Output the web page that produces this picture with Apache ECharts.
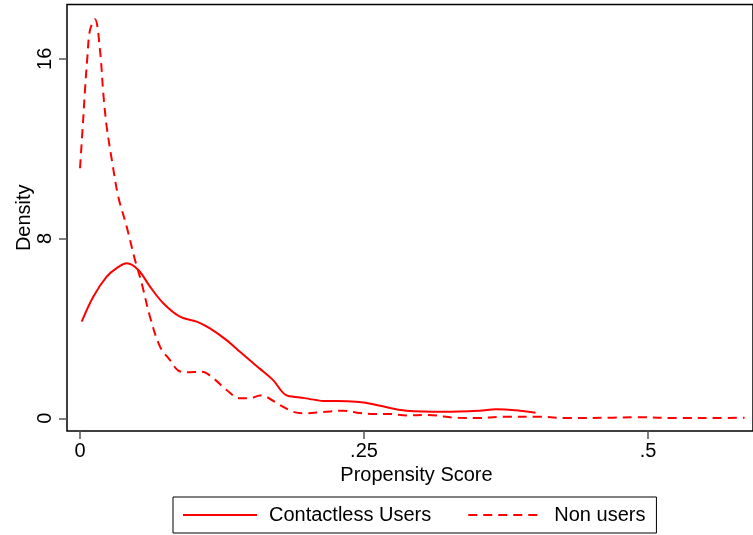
<!DOCTYPE html>
<html>
<head>
<meta charset="utf-8">
<script src="https://cdn.jsdelivr.net/npm/echarts@6/dist/echarts.min.js"></script>
<style>html,body{margin:0;padding:0;background:#fff}#c{width:753px;height:535px}</style>
</head>
<body>
<div id="c"></div>
<script>
// Contactless users (solid)
const contactlessX = [0.0015,0.0117,0.0235,0.0323,0.0411,0.0514,0.0616,0.0733,0.088,0.1027,0.1144,0.129,0.1408,0.1526,0.1585,0.170,0.181,0.1937,0.208,0.2142,0.2356,0.2500,0.263,0.2875,0.321,0.352,0.366,0.387,0.401];
const contactlessY = [4.30,5.41,6.30,6.68,6.90,6.60,5.86,5.12,4.52,4.30,4.00,3.48,2.96,2.45,2.20,1.70,1.04,0.93,0.81,0.77,0.76,0.70,0.57,0.34,0.29,0.34,0.40,0.34,0.25];
// Non users (dashed)
const nonUsersX = [0,0.0024,0.0044,0.0065,0.0088,0.0132,0.0176,0.0205,0.0235,0.0285,0.0337,0.0411,0.0484,0.0543,0.0616,0.0704,0.0792,0.0865,0.0939,0.1071,0.1174,0.129,0.1408,0.1496,0.1585,0.164,0.176,0.1878,0.1966,0.2142,0.2318,0.2436,0.258,0.273,0.2875,0.305,0.333,0.349,0.372,0.403,0.430,0.469,0.489,0.528,0.560,0.585];
const nonUsersY = [11.13,12.98,14.61,16.09,17.28,17.76,16.39,14.46,12.98,11.35,9.86,8.53,7.05,6.01,4.52,3.19,2.59,2.12,2.05,2.07,1.78,1.26,0.89,0.89,1.02,0.96,0.59,0.29,0.22,0.28,0.34,0.25,0.19,0.19,0.13,0.15,0.02,0.01,0.07,0.07,0.01,0.03,0.05,0.01,0.01,0.03];
const xTicks = [0, 0.25, 0.5];
const xTickLabels = ['0', '.25', '.5'];
const yTicks = [0, 8, 16];
const yTickLabels = ['0', '8', '16'];
const seriesNames = ['Contactless Users', 'Non users'];

const pairs = (xs, ys) => xs.map((x, i) => [x, ys[i]]);
const font = 'Liberation Sans, Arial, Helvetica, sans-serif';

const chart = echarts.init(document.getElementById('c'), null, {renderer: 'canvas'});
chart.setOption({
  animation: false,
  backgroundColor: '#fff',
  grid: {left: 67, right: 0, top: 4.5, bottom: 104, show: true, borderColor: '#000', borderWidth: 1.5, backgroundColor: 'transparent', outerBoundsMode: 'none', containLabel: false},
  xAxis: {
    type: 'value', min: -13/1136, max: (753-80)/1136,
    name: 'Propensity Score', nameLocation: 'middle', nameGap: 30,
    nameTextStyle: {fontFamily: font, fontSize: 20, color: '#000', padding: [0, 0, 0, 13]},
    splitLine: {show: false},
    axisLine: {show: false, onZero: false},
    axisTick: {show: true, length: 8, customValues: xTicks, lineStyle: {color: '#555', width: 1.5}},
    axisLabel: {margin: 10, fontFamily: font, fontSize: 20, color: '#000', customValues: xTicks,
      formatter: v => { const i = xTicks.findIndex(t => Math.abs(t - v) < 1e-9); return i >= 0 ? xTickLabels[i] : ''; }}
  },
  yAxis: {
    type: 'value', min: (418.3-431)/22.47, max: (418.3-4.5)/22.47,
    name: 'Density', nameLocation: 'middle', nameGap: 33, nameRotate: 90, nameMoveOverlap: false,
    nameTextStyle: {fontFamily: font, fontSize: 20, color: '#000'},
    splitLine: {show: false},
    axisLine: {show: false, onZero: false},
    axisTick: {show: true, length: 8, customValues: yTicks, lineStyle: {color: '#555', width: 1.5}},
    axisLabel: {margin: 12, rotate: 90, fontFamily: font, fontSize: 20, color: '#000', customValues: yTicks,
      formatter: v => { const i = yTicks.findIndex(t => Math.abs(t - v) < 1e-9); return i >= 0 ? yTickLabels[i] : ''; }}
  },
  legend: {
    left: 173, top: 497, orient: 'horizontal',
    padding: [8, 11, 8, 9], itemGap: 36, itemWidth: 74, itemHeight: 14,
    borderColor: '#000', borderWidth: 1, backgroundColor: '#fff',
    itemStyle: {opacity: 0},
    textStyle: {fontFamily: font, fontSize: 20, color: '#000', padding: [0, 0, 0, 7]},
    data: seriesNames
  },
  series: [
    {name: seriesNames[0], type: 'line', data: pairs(contactlessX, contactlessY), smooth: 0.35,
     symbol: 'none', showSymbol: false, lineStyle: {color: '#ff0000', width: 2}, itemStyle: {color: '#ff0000'}},
    {name: seriesNames[1], type: 'line', data: pairs(nonUsersX, nonUsersY), smooth: 0.35,
     symbol: 'none', showSymbol: false, lineStyle: {color: '#ff0000', width: 2, type: [9, 6]}, itemStyle: {color: '#ff0000'}}
  ]
});
</script>
</body>
</html>
